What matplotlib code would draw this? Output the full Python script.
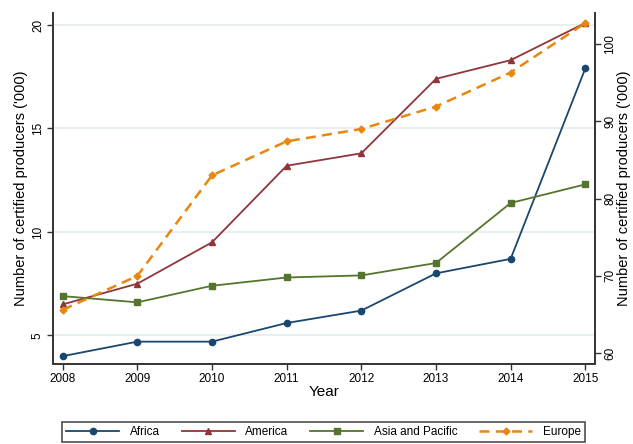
import numpy as np
import matplotlib
matplotlib.use('Agg')
import matplotlib.pyplot as plt

plt.rcParams['font.family'] = ['Liberation Sans', 'DejaVu Sans']

years = [2008, 2009, 2010, 2011, 2012, 2013, 2014, 2015]
# left axis ('000)
africa = [4.0, 4.7, 4.7, 5.6, 6.2, 8.0, 8.7, 17.9]
america = [6.5, 7.5, 9.5, 13.2, 13.8, 17.4, 18.3, 20.1]
asia_pacific = [6.9, 6.6, 7.4, 7.8, 7.9, 8.5, 11.4, 12.3]
# right axis ('000)
europe = [65.6, 70.0, 83.0, 87.4, 89.0, 91.9, 96.3, 102.7]

left_ticks = [5, 10, 15, 20]
right_ticks = [60, 70, 80, 90, 100]

navy = '#1a476f'
maroon = '#90353b'
green = '#55752f'
orange = '#e8870e'
spine_col = '#333333'

fig = plt.figure(figsize=(6.33, 4.44), dpi=100)
ax = fig.add_axes([53/633, 80/444, (595-53)/633, (431-80)/444])
ax2 = ax.twinx()

l1, = ax.plot(years, africa, color=navy, lw=1.3, marker='o', ms=4.5)
l2, = ax.plot(years, america, color=maroon, lw=1.3, marker='^', ms=5)
l3, = ax.plot(years, asia_pacific, color=green, lw=1.3, marker='s', ms=4.5)
l4, = ax2.plot(years, europe, color=orange, lw=1.8, ls=(0, (4, 2.5)), marker='D', ms=3.5)

ax.set_xlim(2007.87, 2015.13)
ax.set_ylim(3.62, 20.58)
ax2.set_ylim(58.6, 104.0)

ax.set_xticks(years)
ax.set_yticks(left_ticks)
ax2.set_yticks(right_ticks)
ax.grid(axis='y', color='#e4ecef', lw=1.2)
ax.set_axisbelow(True)

for a in (ax, ax2):
    a.tick_params(labelsize=8.5, length=4, width=1, color=spine_col, pad=2.5)
    a.spines['top'].set_visible(False)
    for s in ('left', 'right', 'bottom'):
        a.spines[s].set_color(spine_col)
        a.spines[s].set_linewidth(1.2)
ax.tick_params(axis='y', labelrotation=90)
ax2.tick_params(axis='y', labelrotation=90)
for lab in ax.get_yticklabels() + ax2.get_yticklabels():
    lab.set_va('center')

ax.set_xlabel('Year', fontsize=11, labelpad=0)
ax.set_ylabel("Number of certified producers ('000)", fontsize=10.5, labelpad=3)
ax2.set_ylabel("Number of certified producers ('000)", fontsize=10.5, labelpad=1)

leg = fig.legend([l1, l2, l3, l4], ['Africa', 'America', 'Asia and Pacific', 'Europe'],
                 loc='lower left', ncol=4, mode='expand', fontsize=8.5,
                 bbox_to_anchor=(62/633, 2/444, (585-62)/633, (444-418-2)/444),
                 handlelength=4.5, handletextpad=0.9, fancybox=False,
                 edgecolor='#222222', borderaxespad=0, borderpad=0.35)
leg.get_frame().set_linewidth(1.2)

fig.savefig('out.png', dpi=100)
